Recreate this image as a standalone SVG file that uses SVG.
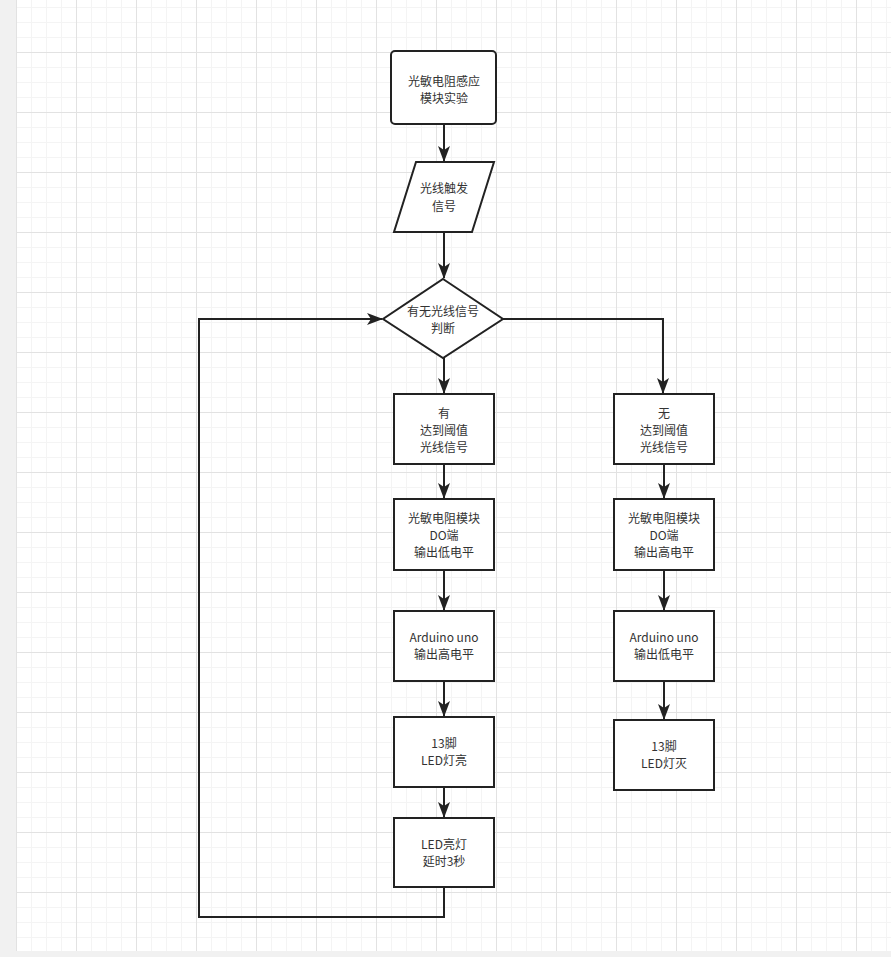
<svg xmlns="http://www.w3.org/2000/svg" width="891" height="957" viewBox="0 0 891 957">
<defs>
<pattern id="minor" x="16" y="7" width="15" height="15" patternUnits="userSpaceOnUse">
<path d="M0 0.5H15M0.5 0V15" fill="none" stroke="#f4f4f4" stroke-width="1"/>
</pattern>
<pattern id="major" x="16" y="52" width="60" height="60" patternUnits="userSpaceOnUse">
<path d="M0 0.5H60M0.5 0V60" fill="none" stroke="#e2e2e2" stroke-width="1"/>
</pattern>
<marker id="arr" viewBox="0 0 16 12" refX="15" refY="6" markerWidth="16" markerHeight="12" markerUnits="userSpaceOnUse" orient="auto">
<path d="M0 0L16 6L0 12L4 6Z" fill="#222"/>
</marker>
</defs>
<style>
.shape{fill:#fff;stroke:#222;stroke-width:2}
.edge{fill:none;stroke:#222;stroke-width:2}
text{font-family:"Noto Sans CJK SC","Liberation Sans",sans-serif;font-size:12px;fill:#333;text-anchor:middle}
</style>
<rect x="0" y="0" width="891" height="957" fill="#f1f1f1"/>
<rect x="16" y="0" width="875" height="951" fill="#fff"/>
<rect x="16" y="0" width="875" height="951" fill="url(#minor)"/>
<rect x="16" y="0" width="875" height="951" fill="url(#major)"/>

<g id="connectors">
<path class="edge" d="M444 124V161" marker-end="url(#arr)"/>
<path class="edge" d="M444 232V278" marker-end="url(#arr)"/>
<path class="edge" d="M444 358V393" marker-end="url(#arr)"/>
<path class="edge" d="M503 319H663V393" marker-end="url(#arr)"/>
<path class="edge" d="M444 464V498" marker-end="url(#arr)"/>
<path class="edge" d="M444 570V610" marker-end="url(#arr)"/>
<path class="edge" d="M444 681V716" marker-end="url(#arr)"/>
<path class="edge" d="M444 787V817" marker-end="url(#arr)"/>
<path class="edge" d="M444 887V917H199V319H382" marker-end="url(#arr)"/>
<path class="edge" d="M664 464V498" marker-end="url(#arr)"/>
<path class="edge" d="M664 570V610" marker-end="url(#arr)"/>
<path class="edge" d="M664 681V719" marker-end="url(#arr)"/>
</g>

<g id="start">
<rect class="shape" x="391" y="51" width="105" height="73" rx="4"/>
<text x="444" y="86">光敏电阻感应</text>
<text x="444" y="103">模块实验</text>
</g>
<g id="input">
<polygon class="shape" points="416,162 494,162 472,232 394,232"/>
<text x="444" y="193">光线触发</text>
<text x="444" y="211">信号</text>
</g>
<g id="decision">
<polygon class="shape" points="443,279 503,319 443,358 383,319"/>
<text x="443" y="316">有无光线信号</text>
<text x="443" y="333">判断</text>
</g>
<g id="yes1">
<rect class="shape" x="394" y="394" width="100" height="70"/>
<text x="444" y="418">有</text>
<text x="444" y="435">达到阈值</text>
<text x="444" y="452">光线信号</text>
</g>
<g id="yes2">
<rect class="shape" x="394" y="499" width="100" height="71"/>
<text x="444" y="523">光敏电阻模块</text>
<text x="444" y="540">DO端</text>
<text x="444" y="557">输出低电平</text>
</g>
<g id="yes3">
<rect class="shape" x="394" y="611" width="100" height="70"/>
<text x="444" y="642">Arduino uno</text>
<text x="444" y="659">输出高电平</text>
</g>
<g id="yes4">
<rect class="shape" x="394" y="717" width="100" height="70"/>
<text x="444" y="748">13脚</text>
<text x="444" y="765">LED灯亮</text>
</g>
<g id="yes5">
<rect class="shape" x="394" y="818" width="100" height="69"/>
<text x="444" y="849">LED亮灯</text>
<text x="444" y="866">延时3秒</text>
</g>
<g id="no1">
<rect class="shape" x="614" y="394" width="100" height="70"/>
<text x="664" y="418">无</text>
<text x="664" y="435">达到阈值</text>
<text x="664" y="452">光线信号</text>
</g>
<g id="no2">
<rect class="shape" x="614" y="499" width="100" height="71"/>
<text x="664" y="523">光敏电阻模块</text>
<text x="664" y="540">DO端</text>
<text x="664" y="557">输出高电平</text>
</g>
<g id="no3">
<rect class="shape" x="614" y="611" width="100" height="70"/>
<text x="664" y="642">Arduino uno</text>
<text x="664" y="659">输出低电平</text>
</g>
<g id="no4">
<rect class="shape" x="614" y="720" width="100" height="70"/>
<text x="664" y="751">13脚</text>
<text x="664" y="768">LED灯灭</text>
</g>
</svg>
